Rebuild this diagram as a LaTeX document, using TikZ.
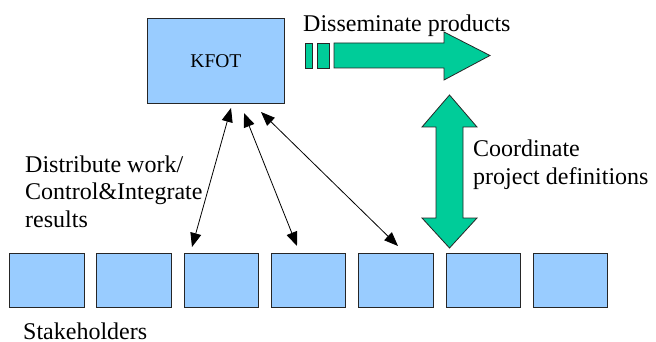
\documentclass[tikz,border=0pt]{standalone}
\usepackage{fontspec}
\setmainfont{Liberation Serif}
\usetikzlibrary{arrows.meta}
\definecolor{boxblue}{HTML}{99CCFF}
\definecolor{arrowgreen}{HTML}{00CC99}
\begin{document}
\begin{tikzpicture}[x=1pt,y=-1pt,
  blubox/.style={draw=black!85, line width=0.8pt, fill=boxblue, anchor=north west, inner sep=0pt},
  stakebox/.style={blubox, minimum width=74.5pt, minimum height=54pt},
  lbl/.style={font=\rmfamily\fontsize{24}{27.6}\selectfont, inner sep=0pt, anchor=base west},
  link/.style={line width=0.8pt, {Triangle[length=14pt,width=11pt]}-{Triangle[length=14pt,width=11pt]}},
  fat/.style={draw=black!85, line width=0.8pt, fill=arrowgreen, line join=miter}]
\useasboundingbox (0,0) rectangle (656,342);

% KFOT box
\node[blubox, minimum width=137pt, minimum height=85pt,
      font=\rmfamily\fontsize{19.5}{22}\selectfont] (kfot) at (147,18) {KFOT};

% stakeholder boxes
\foreach \i in {1,...,7} {
  \node[stakebox] (s\i) at ({9+87.33*(\i-1)},253) {};
}

% labels
\node[lbl] (diss) at (303,32) {Disseminate products};
\node[lbl] (dist) at (25,172) {\begin{tabular}[t]{@{}l@{}}Distribute work/\\Control\&Integrate\\results\end{tabular}};
\node[lbl] (coord) at (473,157) {\begin{tabular}[t]{@{}l@{}}Coordinate\\project definitions\end{tabular}};
\node[lbl] (stake) at (23,339) {Stakeholders};

% connector end points
\coordinate (t1) at (231,108);
\coordinate (t2) at (244,113);
\coordinate (t3) at (261,112);
\coordinate (b1) at (192,247);
\coordinate (b2) at (297,246);
\coordinate (b3) at (398,246);
\draw[link] (t1) -- (b1);
\draw[link] (t2) -- (b2);
\draw[link] (t3) -- (b3);

% striped arrow (disseminate)
\draw[fat] (305,43) rectangle (312,68);
\draw[fat] (317,43) rectangle (329,68);
\draw[fat] (334,43) -- (444,43) -- (444,32) -- (490,55.5) -- (444,80) -- (444,68) -- (334,68) -- cycle;

% double-headed arrow (coordinate)
\draw[fat] (449.5,95) -- (477,127) -- (463,127) -- (463,218) -- (477,218) -- (449.5,248)
  -- (422,218) -- (436,218) -- (436,127) -- (422,127) -- cycle;
\end{tikzpicture}
\end{document}
